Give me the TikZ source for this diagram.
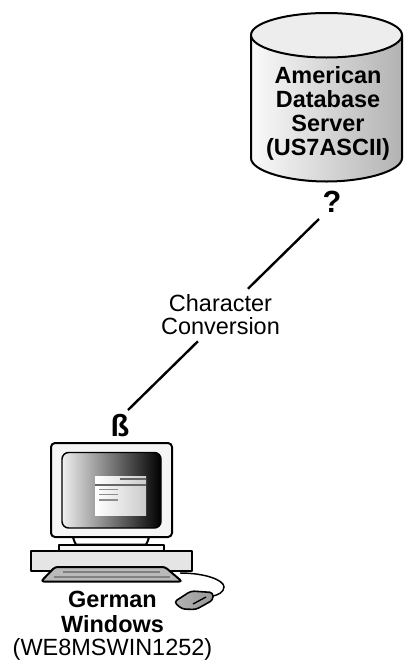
\documentclass[tikz,border=0pt]{standalone}
\usepackage{fontspec}
\setmainfont{Liberation Sans}
\tikzset{
  px/.style={x=0.75pt,y=-0.75pt},
  outline/.style={draw=black,line width=1.5pt,line join=round},
  thinline/.style={draw=black,line width=1.1pt},
  boldlabel/.style={font=\fontsize{17.6}{18}\selectfont\bfseries,align=center,inner sep=0pt},
  convlabel/.style={font=\fontsize{17.6}{17.3}\selectfont,align=center,inner sep=0pt,minimum height=39pt},
  symlabel/.style={font=\fontsize{23}{24}\selectfont\bfseries,inner sep=0pt},
  connector/.style={draw=black,line width=1.8pt},
  detail/.style={draw=black!60,line width=1pt},
  minor/.style={draw=black!45,line width=1pt}
}
\begin{document}
\begin{tikzpicture}[px]
\useasboundingbox (0,0) rectangle (404,661);
% database cylinder
\path[outline,left color=black!2,middle color=white,right color=black!30]
  (251,35) -- (251,158) .. controls (251,171) and (288,181.5) .. (326.5,181.5)
  .. controls (365,181.5) and (402,171) .. (402,158) -- (402,35) -- cycle;
\path[outline,fill=black!7] (326.5,13) .. controls (368,13) and (402,23) .. (402,35)
  .. controls (402,47) and (368,57.5) .. (326.5,57.5)
  .. controls (285,57.5) and (251,47) .. (251,35)
  .. controls (251,23) and (285,13) .. (326.5,13) -- cycle;
\node[boldlabel] (server) at (328,113.5) {American\\Database\\Server\\(US7ASCII)};
\node[symlabel] (query) at (332,202) {?};
\node[symlabel] (sharp) at (120,426) {ß};
\node[convlabel] (conv) at (220.5,315) {Character\\Conversion};
\coordinate (qend) at (319,219);
\coordinate (bend) at (128,410);
\draw[connector] (qend) -- ([xshift=20.6pt]conv.north);
\draw[connector] (bend) -- ([xshift=-16.9pt]conv.south);
% monitor
\path[outline,fill=black!4,rounded corners=3pt] (51,443) rectangle (172,537);
\path[thinline,rounded corners=5pt,left color=black!6,middle color=black!38,right color=black] (62,452.5) rectangle (161,528);
\path[left color=white,right color=black!20] (95,476) rectangle (146,515);
\draw[detail] (120,479) -- (146,479);
\draw[detail] (95,485) -- (146,485);
\draw[minor] (99,489.5) -- (118,489.5);
\draw[minor] (99,494.5) -- (118,494.5);
\draw[minor] (99,500) -- (118,500);
% stand and base
\path[outline,left color=white,middle color=black!65,right color=white] (73,537) .. controls (74,541) and (75,543) .. (76,544.5) -- (146,544.5) .. controls (147,543) and (148,541) .. (149,537) -- cycle;
\path[outline,fill=black!4] (59,544.5) rectangle (164,551);
\path[outline,fill=black!10] (31,551) rectangle (192,571);
% cable
\draw[line width=1.1pt] (180,573) .. controls (205,573) and (224,580) .. (224,587) .. controls (224,592) and (218,595) .. (213,596);
% keyboard
\path[outline,fill=black!27,rounded corners=2pt] (55,567) -- (165,567) -- (182,581.5) -- (41,581.5) -- cycle;
\draw[draw=black!50,line width=0.8pt] (63,572) -- (160,572);
\draw[draw=black!50,line width=0.8pt] (54,577) -- (170,577);
% mouse
\path[outline,line width=1.2pt,left color=black!30,middle color=black!8,right color=black!40,rounded corners=2.5pt]
  (174,602) -- (191,591) -- (213,592.5) -- (213,600) -- (196,609.5) -- (182,609) -- cycle;
\draw[line width=1pt] (193,604) -- (206,597);
% labels
\node[boldlabel] (german) at (112.5,625.5) {German\\[0.6pt]Windows\\[-1pt]\normalfont\fontsize{17.6}{18}\selectfont (WE8MSWIN1252)};
\end{tikzpicture}
\end{document}
